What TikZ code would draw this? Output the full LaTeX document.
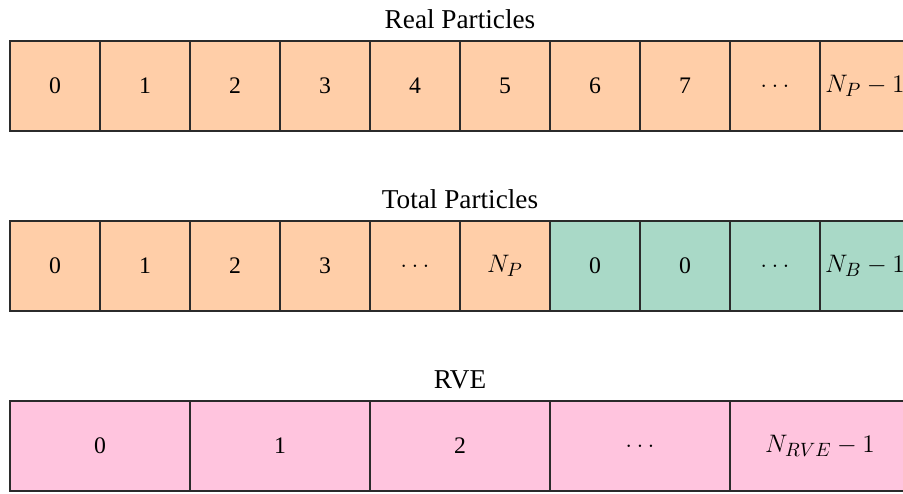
\documentclass[tikz,border=0pt]{standalone}
\usepackage[no-math]{fontspec}
\setmainfont{Liberation Serif}
\usepackage{tikz}
\usetikzlibrary{positioning}
\definecolor{peach}{HTML}{FFCEA8}
\definecolor{mint}{HTML}{A9D9C7}
\definecolor{rose}{HTML}{FFC4DE}
\definecolor{edge}{HTML}{2B2B2B}
\newcommand{\cellmath}[1]{{\fontsize{15}{18}\selectfont$#1$}}

\begin{document}
\begin{tikzpicture}[x=1cm,y=1cm,font=\fontsize{13.5}{16}\selectfont,
  cell/.style={draw=edge,line width=0.8pt,minimum height=1.8cm,minimum width=1.8cm,inner sep=0pt,outer sep=0pt},
  widecell/.style={cell,minimum width=3.6cm},
  caption/.style={font=\fontsize{15.5}{18}\selectfont,inner sep=0pt}]
\path[use as bounding box] (0,0) rectangle (18.06,-9.86);
\clip (0,0) rectangle (18.06,-9.86);
% real particles
\node[cell,fill=peach,anchor=north west] (r0) at (0.2,-0.82) {0};
\foreach \i/\t in {1/1,2/2,3/3,4/4,5/5,6/6,7/7,8/{$\ldots$},9/{\cellmath{N_P-1}}}{
  \pgfmathtruncatemacro{\p}{\i-1}
  \node[cell,fill=peach,right=0pt of r\p] (r\i) {\t};
}
\node[caption,above=0.24cm of r4.north east] (realtitle) {Real Particles};
% total particles
\node[cell,fill=peach,below=1.8cm of r0] (t0) {0};
\foreach \i/\t in {1/1,2/2,3/3,4/{$\ldots$},5/{\cellmath{N_P}}}{
  \pgfmathtruncatemacro{\p}{\i-1}
  \node[cell,fill=peach,right=0pt of t\p] (t\i) {\t};
}
\foreach \i/\t in {6/0,7/0,8/{$\ldots$},9/{\cellmath{N_B-1}}}{
  \pgfmathtruncatemacro{\p}{\i-1}
  \node[cell,fill=mint,right=0pt of t\p] (t\i) {\t};
}
\node[caption,above=0.24cm of t4.north east] (totaltitle) {Total Particles};
% rve
\node[widecell,fill=rose,below=1.8cm of t0.south west,anchor=north west] (v0) {0};
\foreach \i/\t in {1/1,2/2,3/{$\ldots$},4/{\cellmath{N_{RVE}-1}}}{
  \pgfmathtruncatemacro{\p}{\i-1}
  \node[widecell,fill=rose,right=0pt of v\p] (v\i) {\t};
}
\node[caption,above=0.24cm of v2.north] (rvetitle) {RVE};
\end{tikzpicture}
\end{document}
